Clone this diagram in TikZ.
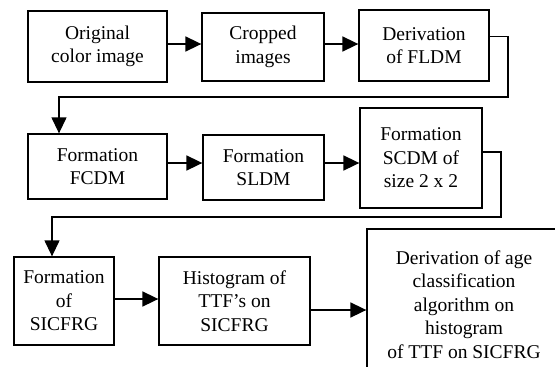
\documentclass[tikz,border=0pt]{standalone}
\usepackage{fontspec}
\setmainfont{Liberation Serif}
\usetikzlibrary{arrows.meta}
\begin{document}
\begin{tikzpicture}[x=1pt, y=-1pt]
      \tikzset{block/.style={draw, line width=1.3pt, align=center, inner sep=0pt, font=\fontsize{19.5}{23.5}\selectfont}}
      \tikzset{flow/.style={-{Triangle[length=16pt, width=15pt]}, line width=1.7pt}}
      \clip (0,0) rectangle (555,367);
%% Blocks
      	\node[block, minimum width=139pt, minimum height=71pt] (orig) at (97.5,46.5) {Original\\color image};
      	\node[block, minimum width=122pt, minimum height=68pt] (crop) at (263,47) {Cropped\\images};
      	\node[block, minimum width=130pt, minimum height=71pt] (fldm) at (424,45.5) {Derivation\\of FLDM};
      	\node[block, minimum width=139pt, minimum height=65pt] (fcdm) at (97.5,166.5) {Formation\\FCDM};
      	\node[block, minimum width=121pt, minimum height=65pt] (sldm) at (263.5,167.5) {Formation\\SLDM};
      	\node[block, minimum width=122pt, minimum height=100pt] (scdm) at (421,158) {Formation\\SCDM of\\size 2 x 2};
      	\node[block, minimum width=100pt, minimum height=88pt] (sicfrg) at (64,301) {Formation\\of\\SICFRG};
      	\node[block, minimum width=151pt, minimum height=88pt] (hist) at (234.5,301) {Histogram of\\TTF's on\\SICFRG};
      	\node[block, minimum width=194pt, minimum height=151pt] (algo) at (464,304.5) {Derivation of age\\classification\\algorithm on\\histogram\\of TTF on SICFRG};
%% Turn points
      	\coordinate (t1) at (508,97);
      	\coordinate (t2) at (501,217);
      	\coordinate (r1) at (0,44);
      	\coordinate (r2) at (0,163);
      	\coordinate (r3) at (0,299);
      	\coordinate (r4) at (0,310);
%Arrows
		\draw[flow] (orig.east |- r1) -- (crop.west |- r1);
		\draw[flow] (crop.east |- r1) -- (fldm.west |- r1);
		\draw[flow] (fcdm.east |- r2) -- (sldm.west |- r2);
		\draw[flow] (sldm.east |- r2) -- (scdm.west |- r2);
		\draw[flow] (sicfrg.east |- r3) -- (hist.west |- r3);
		\draw[flow] (hist.east |- r4) -- (algo.west |- r4);
		\draw[flow, line width=1.3pt] ([yshift=9pt]fldm.east) -| (t1) -| ([xshift=-38.5pt]fcdm.north);
		\draw[flow, line width=1.3pt] ([yshift=6pt]scdm.east) -| (t2) -| ([xshift=-12pt]sicfrg.north);
	\end{tikzpicture}
\end{document}
